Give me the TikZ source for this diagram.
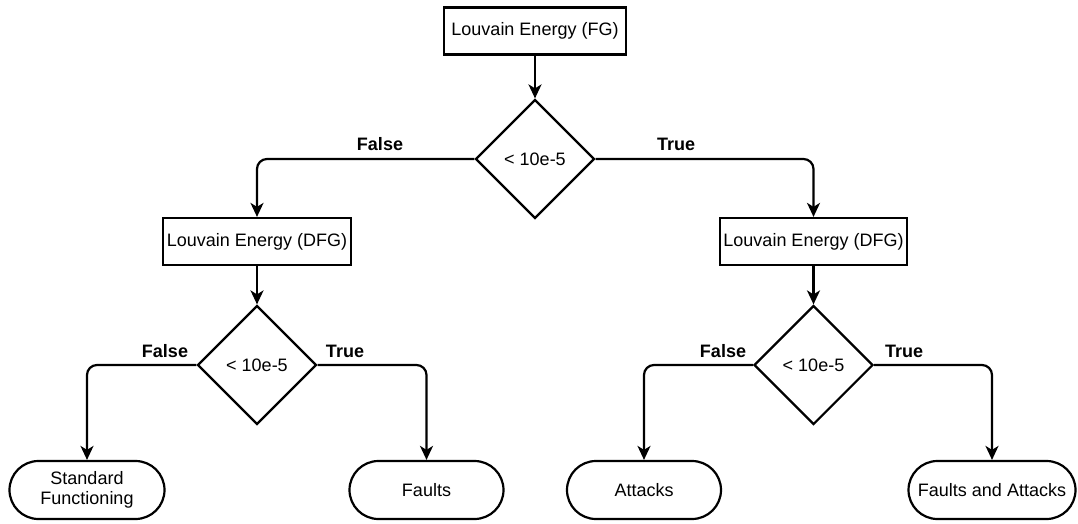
\documentclass[tikz,border=0pt]{standalone}
\usepackage{fontspec}
\setmainfont{Liberation Sans}
\usetikzlibrary{shapes.geometric,shapes.misc,arrows.meta}
\begin{document}
\begin{tikzpicture}[x=1pt,y=-1pt,
  txt/.style={font=\fontsize{18}{20.5}\selectfont},
  procbox/.style={txt,draw,line width=2.2pt,rectangle,inner sep=0pt,minimum height=47pt},
  decision/.style={txt,draw,line width=2.2pt,diamond,aspect=1,inner sep=0pt,minimum width=119pt,minimum height=119pt},
  term/.style={txt,draw,line width=2.2pt,rounded rectangle,inner sep=0pt,minimum height=58pt,align=center},
  flow/.style={line width=2.2pt,-{Stealth[length=14pt,width=13pt,inset=4pt]},rounded corners=10pt},
  lbl/.style={font=\fontsize{18}{20}\selectfont\bfseries}]
\useasboundingbox[fill=white] (0,0) rectangle (1078,524);

\node[procbox,minimum width=182pt] (top) at (535,31) {Louvain Energy (FG)};
\node[decision] (d0) at (535,159) {< 10e-5};
\node[procbox,minimum width=188pt] (dfgL) at (257,241.5) {Louvain Energy (DFG)};
\node[procbox,minimum width=187pt] (dfgR) at (813.5,241.5) {Louvain Energy (DFG)};
\node[decision] (d1) at (257,365) {< 10e-5};
\node[decision] (d2) at (813.5,365) {< 10e-5};
\node[term,minimum width=155pt] (sf) at (87,490) {Standard\\Functioning};
\node[term,minimum width=154pt] (fa) at (426.5,490) {Faults};
\node[term,minimum width=154pt] (at) at (644,490) {Attacks};
\node[term,minimum width=167pt] (faa) at (992,490) {Faults and Attacks};

\draw[flow] (top.south) -- (d0.north);
\draw[flow] (d0.west) -| (dfgL.north);
\draw[flow] (d0.east) -| (dfgR.north);
\draw[flow] (dfgL.south) -- (d1.north);
\draw[flow] (dfgR.south) -- (d2.north);
\draw[flow] (d1.west) -| (sf.north);
\draw[flow] (d1.east) -| (fa.north);
\draw[flow] (d2.west) -| (at.north);
\draw[flow] (d2.east) -| (faa.north);

\node[lbl] (lf0) at (380,144) {False};
\node[lbl] (lt0) at (676,144) {True};
\node[lbl] (lf1) at (165,351) {False};
\node[lbl] (lt1) at (345,351) {True};
\node[lbl] (lf2) at (723,351) {False};
\node[lbl] (lt2) at (904,351) {True};
\end{tikzpicture}
\end{document}
